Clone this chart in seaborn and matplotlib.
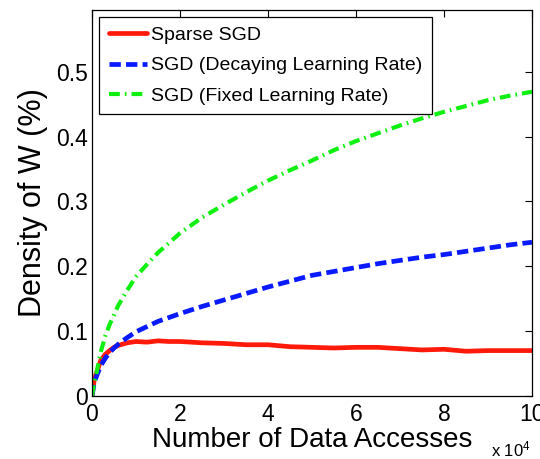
import matplotlib
matplotlib.use('Agg')
import matplotlib.pyplot as plt
import seaborn as sns

sns.set_theme(style='white')
plt.rcParams['font.family'] = ['Liberation Sans', 'DejaVu Sans']
plt.rcParams['mathtext.default'] = 'regular'
plt.rcParams.update({'text.color': 'black', 'axes.labelcolor': 'black',
                     'xtick.color': 'black', 'ytick.color': 'black'})

# number of data accesses, in units of 1e4
accesses = [0, 0.05, 0.1, 0.2, 0.3, 0.4, 0.5, 0.6, 0.8, 1.0, 1.25, 1.5, 1.75, 2.0,
            2.5, 3.0, 3.5, 4.0, 4.5, 5.0, 5.5, 6.0, 6.5, 7.0, 7.5, 8.0, 8.5, 9.0, 9.5, 10.0]
sparse_sgd = [0, 0.025, 0.035, 0.055, 0.064, 0.070, 0.075, 0.078, 0.082, 0.084, 0.083,
              0.085, 0.084, 0.084, 0.082, 0.081, 0.079, 0.079, 0.076, 0.075, 0.074,
              0.075, 0.075, 0.073, 0.071, 0.072, 0.069, 0.070, 0.070, 0.070]
sgd_decay = [0, 0.020, 0.030, 0.047, 0.058, 0.067, 0.074, 0.080, 0.090, 0.099, 0.107,
             0.115, 0.121, 0.127, 0.138, 0.148, 0.158, 0.168, 0.177, 0.186, 0.192,
             0.198, 0.204, 0.209, 0.214, 0.218, 0.223, 0.228, 0.233, 0.237]
sgd_fixed = [0, 0.020, 0.035, 0.068, 0.092, 0.110, 0.125, 0.140, 0.163, 0.184, 0.203,
             0.221, 0.236, 0.251, 0.275, 0.295, 0.314, 0.332, 0.348, 0.363, 0.379,
             0.393, 0.405, 0.417, 0.428, 0.438, 0.447, 0.456, 0.463, 0.469]
labels = ['Sparse SGD', 'SGD (Decaying Learning Rate)', 'SGD (Fixed Learning Rate)']

fig = plt.figure(figsize=(5.4, 4.59), dpi=100)
ax = fig.add_axes([92 / 540, 63 / 459, 440 / 540, 386 / 459])

sns.lineplot(x=accesses, y=sparse_sgd, ax=ax, color='#ff1a0a', lw=3.4, label=labels[0])
sns.lineplot(x=accesses, y=sgd_decay, ax=ax, color='#0a1aff', lw=3.4,
             label=labels[1]).lines[-1].set_dashes((2.4, 1.1))
line = sns.lineplot(x=accesses, y=sgd_fixed, ax=ax, color='#10f010', lw=3.0,
                    label=labels[2]).lines[-1]
line.set_dashes((2.6, 1.2, 0.4, 1.2))

ax.set_xlim(0, 10)
ax.set_ylim(0, 0.595)
ax.set_xticks([0, 2, 4, 6, 8, 10])
ax.set_xticklabels(['0', '2', '4', '6', '8', '10'])
ax.set_yticks([0, 0.1, 0.2, 0.3, 0.4, 0.5])
ax.set_yticklabels(['0', '0.1', '0.2', '0.3', '0.4', '0.5'])
ax.tick_params(direction='in', top=True, right=True, length=5, width=0.8,
               color='black', labelsize=16.5)
ax.tick_params(axis='x', pad=5)
ax.tick_params(axis='y', pad=3)
for s in ax.spines.values():
    s.set_color('black')
    s.set_linewidth(0.9)

ax.set_xlabel('Number of Data Accesses', fontsize=20, labelpad=1)
ax.set_ylabel('Density of W (%)', fontsize=22, labelpad=6)

leg = ax.legend(loc='upper left', fontsize=14, fancybox=False, framealpha=1,
                edgecolor='black', handlelength=2.0, handletextpad=0.2,
                labelspacing=0.65, borderaxespad=0.35, borderpad=0.5)
leg.get_frame().set_linewidth(0.9)

fig.text(0.983, 0.0, r'x 10$^4$', ha='right', va='bottom', fontsize=12)

fig.savefig('out.png', dpi=100)
